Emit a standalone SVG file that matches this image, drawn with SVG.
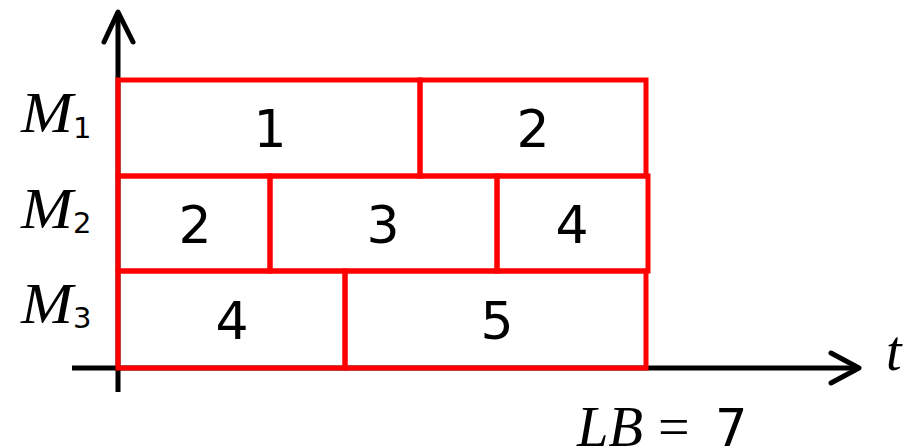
<svg xmlns="http://www.w3.org/2000/svg" width="909" height="448" viewBox="0 0 909 448">
<style>
.task{fill:none;stroke:#FF0000;stroke-width:5}
.num{font-family:"DejaVu Sans",sans-serif;font-size:52px;fill:#000;text-anchor:middle}
.math{font-family:"Liberation Serif",serif;font-style:italic;font-size:56px;fill:#000}
.sub{font-family:"DejaVu Sans",sans-serif;font-size:29px;fill:#000}
.axis{fill:none;stroke:#000;stroke-width:5;stroke-linecap:round;stroke-linejoin:round}
</style>
<rect width="909" height="448" fill="#fff"/>
<g id="connectors">
<line class="axis" x1="118" y1="392" x2="118" y2="12" style="stroke-linecap:butt"/>
<polyline class="axis" points="104,42 118,12 133,42"/>
<line class="axis" x1="72" y1="368" x2="858" y2="368" style="stroke-linecap:butt"/>
<polyline class="axis" points="831,353 859,368 831,383"/>
</g>
<g id="m1-task1"><rect class="task" x="118" y="80" width="302" height="96"/><text class="num" x="270" y="147">1</text></g>
<g id="m1-task2"><rect class="task" x="420" y="80" width="226" height="96"/><text class="num" x="533" y="147">2</text></g>
<g id="m2-task2"><rect class="task" x="118" y="176" width="152" height="95"/><text class="num" x="195" y="243">2</text></g>
<g id="m2-task3"><rect class="task" x="270" y="176" width="227" height="95"/><text class="num" x="383" y="243">3</text></g>
<g id="m2-task4"><rect class="task" x="497" y="176" width="151" height="95"/><text class="num" x="572" y="243">4</text></g>
<g id="m3-task4"><rect class="task" x="118" y="271" width="227" height="97"/><text class="num" x="232" y="339">4</text></g>
<g id="m3-task5"><rect class="task" x="345" y="271" width="301" height="97"/><text class="num" x="497" y="339">5</text></g>
<g id="labels">
<text class="math" x="21" y="132" textLength="52" lengthAdjust="spacingAndGlyphs">M</text><text class="sub" x="73" y="138">1</text>
<text class="math" x="21" y="228" textLength="52" lengthAdjust="spacingAndGlyphs">M</text><text class="sub" x="73" y="233">2</text>
<text class="math" x="21" y="323" textLength="52" lengthAdjust="spacingAndGlyphs">M</text><text class="sub" x="73" y="328">3</text>
<text class="math" x="886" y="370">t</text>
<text class="math" x="577" y="446" textLength="66" lengthAdjust="spacingAndGlyphs">LB</text>
<text x="658" y="446" font-family="Liberation Serif,serif" font-size="56">=</text>
<text x="715" y="446" font-family="DejaVu Sans,sans-serif" font-size="51">7</text>
</g>
</svg>
